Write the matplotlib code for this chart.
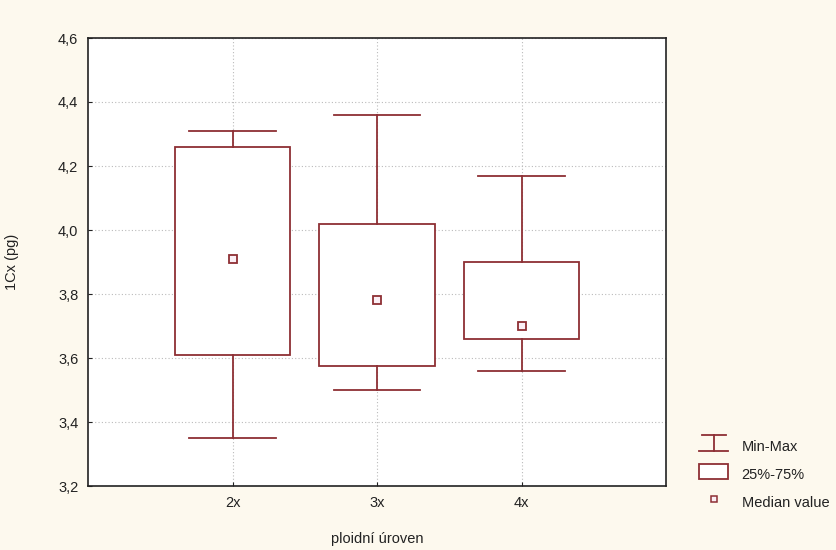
import matplotlib
matplotlib.use("Agg")
import matplotlib.pyplot as plt
from matplotlib.lines import Line2D
from matplotlib.patches import Rectangle
from matplotlib.legend_handler import HandlerBase
from matplotlib.ticker import FuncFormatter

categories = ["2x", "3x", "4x"]
minimum = [3.35, 3.50, 3.56]
q25 = [3.61, 3.575, 3.66]
median = [3.91, 3.78, 3.70]
q75 = [4.26, 4.02, 3.90]
maximum = [4.31, 4.36, 4.17]
yticks = [3.2, 3.4, 3.6, 3.8, 4.0, 4.2, 4.4, 4.6]

RED = "#8E2F34"
BG = "#FDF9EE"
plt.rcParams["font.family"] = ["Liberation Sans", "DejaVu Sans"]

W, H = 837, 550
fig = plt.figure(figsize=(W / 100, H / 100), dpi=100, facecolor=BG)
ax = fig.add_axes([88 / W, 1 - 486 / H, (666 - 88) / W, (486 - 38) / H])
ax.set_facecolor("white")

positions = list(range(1, len(categories) + 1))
stats = []
for i in range(len(categories)):
    stats.append(dict(med=median[i], q1=q25[i], q3=q75[i],
                      whislo=minimum[i], whishi=maximum[i], fliers=[]))

ax.bxp(stats, positions=positions, widths=0.8, capwidths=0.6,
       showfliers=False, patch_artist=True,
       boxprops=dict(facecolor="white", edgecolor=RED, linewidth=1.3),
       whiskerprops=dict(color=RED, linewidth=1.3),
       capprops=dict(color=RED, linewidth=1.3),
       medianprops=dict(linewidth=0), zorder=3)
ax.plot(positions, median, linestyle="none", marker="s", markersize=6,
        markerfacecolor="#FBEFF5", markeredgecolor=RED, markeredgewidth=1.3, zorder=4)

ax.set_xlim(0, 4)
ax.set_ylim(3.2, 4.6)
ax.set_xticks(positions)
ax.set_xticklabels(categories)
ax.set_yticks(yticks)
ax.yaxis.set_major_formatter(FuncFormatter(lambda v, p: f"{v:.1f}".replace(".", ",")))
ax.tick_params(direction="in", length=3, labelsize=10.5, colors="#222222", pad=7)
ax.grid(True, color="#BBBBBB", linestyle=(0, (1, 2)), linewidth=0.8, zorder=0)
ax.set_axisbelow(True)
for s in ax.spines.values():
    s.set_color("#222222")
    s.set_linewidth(1.2)

ax.set_ylabel("1Cx (pg)", fontsize=10.5, color="#222222", labelpad=28)
ax.set_xlabel("ploidní úroven", fontsize=10.5, color="#222222", labelpad=16)


class HandlerMinMax(HandlerBase):
    def create_artists(self, legend, orig_handle, xd, yd, width, height, fontsize, trans):
        cx = xd + width / 2
        arts = [
            Line2D([xd + 2, xd + width - 2], [yd + height + 1, yd + height + 1], color=RED, lw=1.3),
            Line2D([xd, xd + width], [yd - 1, yd - 1], color=RED, lw=1.3),
            Line2D([cx, cx], [yd - 1, yd + height + 1], color=RED, lw=1.3),
        ]
        for a in arts:
            a.set_transform(trans)
        return arts


class HandlerBox(HandlerBase):
    def create_artists(self, legend, orig_handle, xd, yd, width, height, fontsize, trans):
        r = Rectangle((xd, yd - 1), width, height + 2, facecolor="white", edgecolor=RED, lw=1.3,
                      transform=trans)
        return [r]


class HandlerMed(HandlerBase):
    def create_artists(self, legend, orig_handle, xd, yd, width, height, fontsize, trans):
        m = Line2D([xd + width / 2], [yd + height / 2], linestyle="none", marker="s", markersize=5,
                   markerfacecolor="#FBEFF5", markeredgecolor=RED, markeredgewidth=1.1, transform=trans)
        return [m]


h1, h2, h3 = object(), object(), object()
leg = fig.legend([h1, h2, h3], ["Min-Max", "25%-75%", "Median value"],
                 handler_map={h1: HandlerMinMax(), h2: HandlerBox(), h3: HandlerMed()},
                 loc="upper left", bbox_to_anchor=(692 / W, 1 - 432 / H),
                 frameon=False, fontsize=10.5, handlelength=2.0, handleheight=0.95,
                 labelspacing=0.95, handletextpad=0.9, borderpad=0)
for t in leg.get_texts():
    t.set_color("#222222")

fig.savefig("out.png", dpi=100, facecolor=BG)
